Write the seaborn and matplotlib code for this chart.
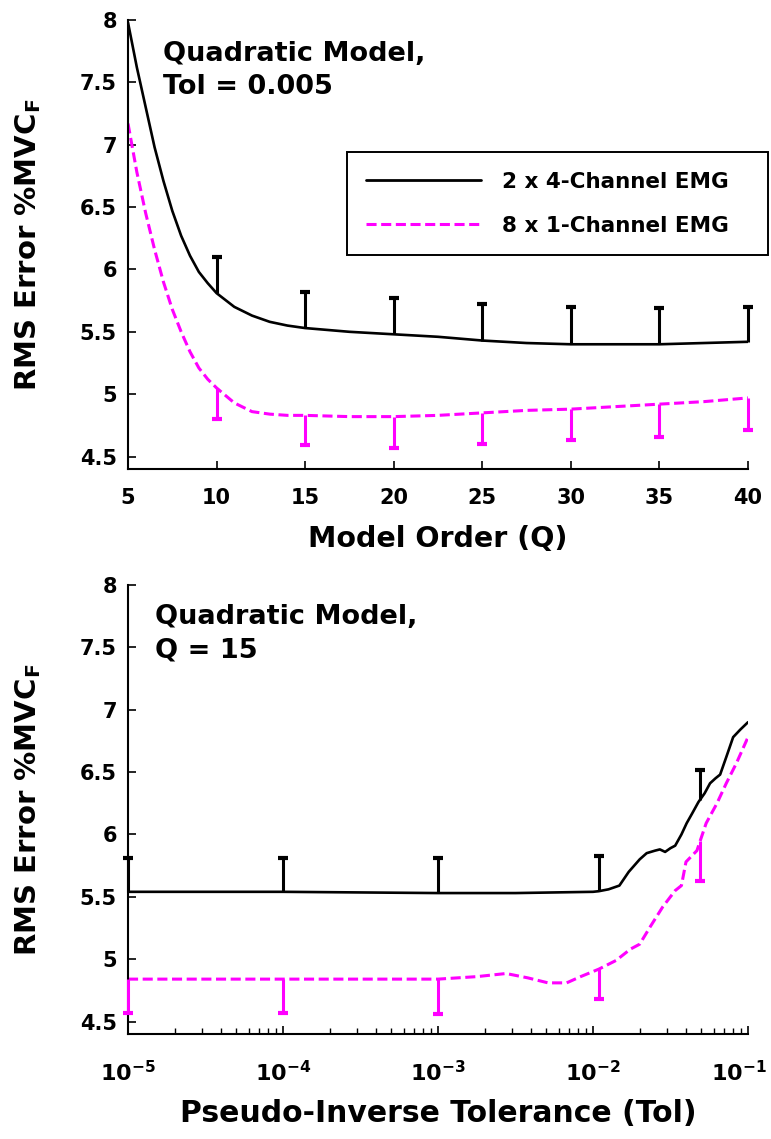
import numpy as np
import pandas as pd
import matplotlib
matplotlib.use("Agg")
import matplotlib.pyplot as plt
from matplotlib.transforms import ScaledTranslation
import seaborn as sns

# ---------------- data ----------------
# Top panel: RMS error vs model order Q (Tol = 0.005)
q_order = [5, 5.5, 6, 6.5, 7, 7.5, 8, 8.5, 9, 9.5, 10, 11, 12, 13, 14, 15,
           17.5, 20, 22.5, 25, 27.5, 30, 32.5, 35, 37.5, 40]
q_black = [7.98, 7.62, 7.30, 6.98, 6.71, 6.47, 6.27, 6.11, 5.98, 5.89, 5.81,
           5.70, 5.63, 5.58, 5.55, 5.53, 5.50, 5.48, 5.46, 5.43, 5.41, 5.40,
           5.40, 5.40, 5.41, 5.42]
q_magenta = [7.17, 6.78, 6.45, 6.16, 5.90, 5.68, 5.50, 5.34, 5.21, 5.12, 5.05,
             4.93, 4.86, 4.84, 4.83, 4.83, 4.82, 4.82, 4.83, 4.85, 4.87, 4.88,
             4.90, 4.92, 4.94, 4.97]
q_err_x = [10, 15, 20, 25, 30, 35, 40]
q_black_top = [6.10, 5.82, 5.77, 5.72, 5.70, 5.69, 5.70]
q_magenta_bottom = [4.80, 4.59, 4.57, 4.60, 4.63, 4.66, 4.71]

# Bottom panel: RMS error vs pseudo-inverse tolerance (Q = 15)
tol_black_x = [1e-5, 1e-4, 1e-3, 3.16e-3, 1.0e-2, 1.09e-2, 1.26e-2, 1.48e-2,
               1.70e-2, 2.0e-2, 2.22e-2, 2.51e-2, 2.70e-2, 2.92e-2, 3.16e-2,
               3.39e-2, 3.72e-2, 4.02e-2, 4.37e-2, 4.79e-2, 5.25e-2, 5.69e-2,
               6.17e-2, 6.61e-2, 7.24e-2, 8.02e-2, 8.91e-2, 1e-1]
tol_black = [5.54, 5.54, 5.53, 5.53, 5.54, 5.545, 5.56, 5.59, 5.70, 5.80, 5.85,
             5.87, 5.88, 5.86, 5.89, 5.91, 6.00, 6.09, 6.17, 6.26, 6.33, 6.41,
             6.45, 6.48, 6.62, 6.78, 6.84, 6.90]
tol_mag_x = [1e-5, 1e-4, 1e-3, 1.78e-3, 2.75e-3, 3.80e-3, 5.13e-3, 6.76e-3,
             8.32e-3, 1.09e-2, 1.41e-2, 1.74e-2, 2.0e-2, 2.34e-2, 2.82e-2,
             3.39e-2, 3.72e-2, 3.98e-2, 4.68e-2, 5.37e-2, 6.31e-2, 7.24e-2,
             8.41e-2, 1e-1]
tol_magenta = [4.84, 4.84, 4.84, 4.86, 4.885, 4.85, 4.81, 4.81, 4.86, 4.92,
               4.99, 5.08, 5.12, 5.26, 5.42, 5.55, 5.59, 5.78, 5.87, 6.09, 6.25,
               6.41, 6.57, 6.78]
tol_err_x = [1e-5, 1e-4, 1e-3, 1.09e-2, 4.9e-2]
tol_black_top = [5.81, 5.81, 5.81, 5.83, 6.52]
tol_magenta_bottom = [4.57, 4.57, 4.56, 4.68, 5.63]

series_names = ["2 x 4-Channel EMG", "8 x 1-Channel EMG"]
y_ticks = [4.5, 5, 5.5, 6, 6.5, 7, 7.5, 8]
y_ticklabels = ["4.5", "5", "5.5", "6", "6.5", "7", "7.5", "8"]
q_ticks = [5, 10, 15, 20, 25, 30, 35, 40]
tol_ticks = [1e-5, 1e-4, 1e-3, 1e-2, 1e-1]
tol_ticklabels = [r"$10^{-5}$", r"$10^{-4}$", r"$10^{-3}$", r"$10^{-2}$", r"$10^{-1}$"]

# ---------------- style ----------------
sns.set_style("ticks")
FONT = ["DejaVu Sans"]
plt.rcParams["font.family"] = FONT
plt.rcParams["font.weight"] = "bold"
plt.rcParams["mathtext.fontset"] = "custom"
plt.rcParams["mathtext.rm"] = "DejaVu Sans:bold"
plt.rcParams["mathtext.bf"] = "DejaVu Sans:bold"
plt.rcParams["mathtext.it"] = "DejaVu Sans:bold"
plt.rcParams["mathtext.default"] = "bf"
for k in ("text.color", "axes.labelcolor", "xtick.color", "ytick.color",
          "axes.edgecolor"):
    plt.rcParams[k] = "black"

BLACK = "#000000"
MAGENTA = "#FF00FF"

W, H = 771, 1139
fig = plt.figure(figsize=(W / 100, H / 100), dpi=100)
ax1 = fig.add_axes([128 / W, 1 - 469 / H, 620 / W, 449 / H])
ax2 = fig.add_axes([128 / W, 1 - 1034 / H, 620 / W, 449 / H])

df_q = pd.DataFrame({
    "x": q_order * 2,
    "y": q_black + q_magenta,
    "series": [series_names[0]] * len(q_order) + [series_names[1]] * len(q_order),
})
df_t = pd.concat([
    pd.DataFrame({"x": tol_black_x, "y": tol_black, "series": series_names[0]}),
    pd.DataFrame({"x": tol_mag_x, "y": tol_magenta, "series": series_names[1]}),
])

DASH = (3.3, 1.5)
palette = {series_names[0]: BLACK, series_names[1]: MAGENTA}
dashes = {series_names[0]: "", series_names[1]: DASH}


def draw(ax, df, ex, top, bottom, bx, by, mx, my, logx):
    sns.lineplot(data=df, x="x", y="y", hue="series", style="series",
                 palette=palette, dashes=dashes, sort=False, estimator=None,
                 ax=ax, legend=False)
    for line in ax.get_lines():
        if line.get_color().lower() in ("#ff00ff", "magenta"):
            line.set_linewidth(2.2)
        else:
            line.set_linewidth(1.9)
    if logx:
        base_b = np.interp(np.log(ex), np.log(bx), by)
        base_m = np.interp(np.log(ex), np.log(mx), my)
    else:
        base_b = np.interp(ex, bx, by)
        base_m = np.interp(ex, mx, my)
    ax.vlines(ex, base_b, top, color=BLACK, lw=2.2, clip_on=False, zorder=3)
    ax.plot(ex, top, ls="none", marker="_", ms=7, mew=3.0, color=BLACK,
            clip_on=False, zorder=3)
    ax.vlines(ex, bottom, base_m, color=MAGENTA, lw=2.2, clip_on=False, zorder=3)
    ax.plot(ex, bottom, ls="none", marker="_", ms=7, mew=3.0, color=MAGENTA,
            clip_on=False, zorder=3)


draw(ax1, df_q, q_err_x, q_black_top, q_magenta_bottom,
     q_order, q_black, q_order, q_magenta, False)
draw(ax2, df_t, tol_err_x, tol_black_top, tol_magenta_bottom,
     tol_black_x, tol_black, tol_mag_x, tol_magenta, True)

ax2.set_xscale("log")

for ax in (ax1, ax2):
    ax.set_ylim(4.4, 8)
    ax.set_yticks(y_ticks)
    ax.set_yticklabels(y_ticklabels)
    sns.despine(ax=ax)
    for s in ("left", "bottom"):
        ax.spines[s].set_linewidth(1.5)
        ax.spines[s].set_color(BLACK)
    ax.tick_params(axis="both", which="major", direction="in", length=6,
                   width=1.2, colors=BLACK)
    ax.tick_params(axis="y", labelsize=15, pad=8)
    ax.set_ylabel(r"RMS Error %MVC$_{F}$", fontsize=21, fontweight="bold")
    ax.yaxis.set_label_coords(-0.137, 0.5)
    ax.set_facecolor("white")

ax1.set_xlim(5, 40)
ax1.set_xticks(q_ticks)
ax1.set_xticklabels([str(t) for t in q_ticks])
ax1.tick_params(axis="x", labelsize=15, pad=14)
ax1.set_xlabel("Model Order (Q)", fontsize=20.5, fontweight="bold")
ax1.xaxis.set_label_coords(0.5, -0.125)

ax2.set_xlim(1e-5, 1e-1)
ax2.set_xticks(tol_ticks)
ax2.set_xticklabels(tol_ticklabels)
ax2.tick_params(axis="x", which="major", labelsize=16, pad=19)
ax2.tick_params(axis="x", which="minor", direction="in", length=4, width=1.0)
ax2.set_xlabel("Pseudo-Inverse Tolerance (Tol)", fontsize=21.5, fontweight="bold")
ax2.xaxis.set_label_coords(0.5, -0.145)

# keep the last log label fully inside the canvas
last = ax2.xaxis.get_major_ticks()[-1].label1
last.set_transform(last.get_transform() +
                   ScaledTranslation(-0.09, 0, fig.dpi_scale_trans))

ax1.text(0.0565, 0.953, "Quadratic Model,\nTol = 0.005", transform=ax1.transAxes,
         fontsize=19.5, fontweight="bold", va="top", ha="left", linespacing=1.32)
ax2.text(0.043, 0.958, "Quadratic Model,\nQ = 15", transform=ax2.transAxes,
         fontsize=19.5, fontweight="bold", va="top", ha="left", linespacing=1.4)

handles = [plt.Line2D([], [], color=BLACK, lw=2.0),
           plt.Line2D([], [], color=MAGENTA, lw=2.2, dashes=DASH)]
leg = fig.legend(handles, series_names, loc="lower left",
                 bbox_to_anchor=(347 / W, 1 - 255 / H, 421 / W, 102 / H),
                 mode="expand", prop={"weight": "bold", "size": 15.5},
                 handlelength=5.35, handletextpad=0.95, labelspacing=1.13,
                 borderpad=0.89, borderaxespad=0.0, fancybox=False,
                 framealpha=1, edgecolor=BLACK)
leg.get_frame().set_linewidth(1.4)

fig.savefig("out.png", dpi=100, facecolor="white")
